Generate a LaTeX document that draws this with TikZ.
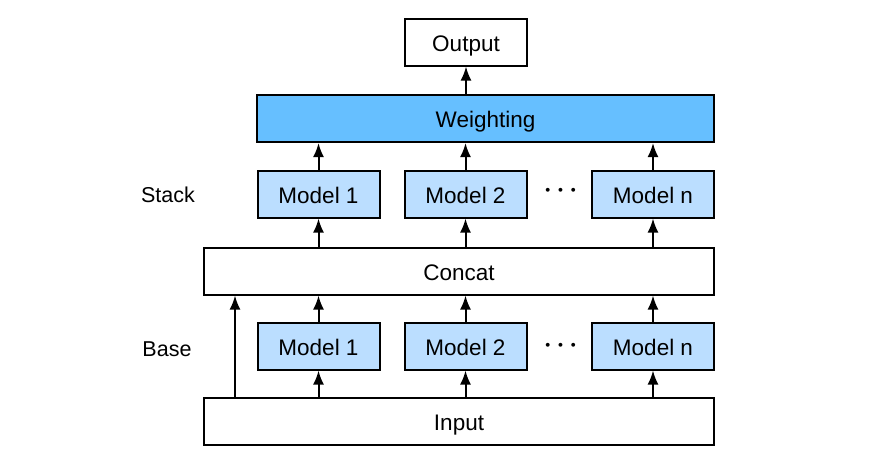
\documentclass[tikz,border=0pt]{standalone}
\usepackage{xcolor}
\usepackage{amsmath}
\usepackage{fontspec}
\setmainfont{Liberation Sans}
\usepackage{tikz}
\usetikzlibrary{arrows.meta}
\definecolor{weightblue}{RGB}{102, 191, 255}
\definecolor{modelblue}{RGB}{187, 222, 255}

\begin{document}
\begin{tikzpicture}[x=1pt, y=-1pt,
    box/.style={draw=black, line width=2pt, minimum height=47pt, inner sep=0pt,
        text height=20pt, text depth=2pt, font=\fontsize{22.5}{27}\selectfont},
    modelbox/.style={box, fill=modelblue, minimum width=122pt},
    flow/.style={line width=2pt, -{Latex[length=14pt, width=11pt]}}]
    \useasboundingbox (0,0) rectangle (885,467);
    % top
    \node[box, minimum width=122pt] (output) at (466,42) {Output};
    \node[box, fill=weightblue, minimum width=457pt] (weighting) at (485.5,118.5) {Weighting};
    % stack layer
    \node[modelbox] (s1) at (318.5,194) {Model 1};
    \node[modelbox] (s2) at (465.5,194) {Model 2};
    \node[modelbox] (sn) at (653,194) {Model n};
    \node (sdots) at (563,191) {\fontsize{28}{30}\selectfont$\boldsymbol{\cdots}$};
    \node[font=\fontsize{21.5}{26}\selectfont] (stack) at (168,195) {Stack};
    \node[box, minimum width=510pt] (concat) at (459,271) {Concat};
    % base layer
    \node[modelbox] (b1) at (318.5,346) {Model 1};
    \node[modelbox] (b2) at (465.5,346) {Model 2};
    \node[modelbox] (bn) at (653,346) {Model n};
    \node (bdots) at (563,346) {\fontsize{28}{30}\selectfont$\boldsymbol{\cdots}$};
    \node[font=\fontsize{21.5}{26}\selectfont] (base) at (167,349) {Base};
    \node[box, minimum width=510pt] (input) at (459,421.5) {Input};

    \draw[flow] (output.south |- weighting.north) -- (output.south);
    \foreach \m in {s1,s2,sn} {
        \draw[flow] (\m.north) -- (\m.north |- weighting.south);
        \draw[flow] (\m.south |- concat.north) -- (\m.south);
    }
    \foreach \m in {b1,b2,bn} {
        \draw[flow] (\m.north) -- (\m.north |- concat.south);
        \draw[flow] (\m.south |- input.north) -- (\m.south);
    }
    \coordinate (skip) at (235,421.5);
    \draw[flow] (skip |- input.north) -- (skip |- concat.south);
\end{tikzpicture}
\end{document}
